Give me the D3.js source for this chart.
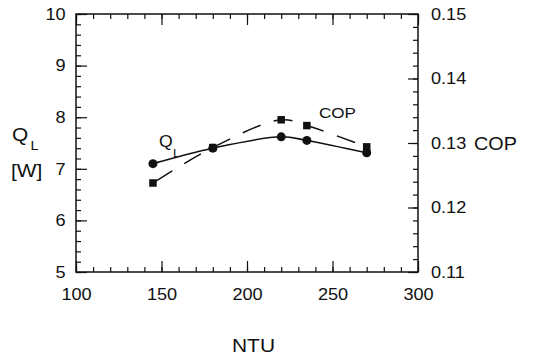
<!DOCTYPE html>
<html>
<head>
<meta charset="utf-8">
<script src="https://cdn.jsdelivr.net/npm/d3@7"></script>
<style>
  html, body { margin: 0; padding: 0; background: #fff; }
  svg { display: block; }
  text { font-family: "Liberation Sans", Arial, sans-serif; fill: #111; }
</style>
</head>
<body>
<svg id="chart" width="537" height="359"></svg>
<script>
// Measured cooling load and COP against the number of transfer units
const ntu = [145, 180, 220, 235, 270];
const qL = [7.10, 7.40, 7.62, 7.55, 7.31];
const cop = [0.1238, 0.1293, 0.1336, 0.1327, 0.1294];

const xMajor = [100, 150, 200, 250, 300];
const xMinor = d3.range(100, 301, 10);
const qMajor = [5, 6, 7, 8, 9, 10];
const qMinor = d3.range(5, 10.001, 0.2);
const copMajor = [0.11, 0.12, 0.13, 0.14, 0.15];
const copMinor = d3.range(0.11, 0.15001, 0.002);

const svg = d3.select("#chart");
const L = 76, R = 418, T = 14, B = 272;

const x = d3.scaleLinear().domain([100, 300]).range([L, R]);
const yQ = d3.scaleLinear().domain([5, 10]).range([B, T]);
const yC = d3.scaleLinear().domain([0.11, 0.15]).range([B, T]);

const ink = "#111";
const stretch = "scale(1.1,1)";

function styleAxis(g) {
  g.select(".domain").remove();
  g.selectAll(".tick line").attr("stroke", ink).attr("stroke-width", 1.2);
  g.selectAll("text").attr("font-size", 16.5).attr("fill", ink)
    .attr("font-family", "Liberation Sans, Arial, sans-serif");
}

// bottom axis: minor + labelled major ticks pointing inward
svg.append("g").attr("transform", `translate(0,${B})`)
  .call(d3.axisBottom(x).tickValues(xMinor).tickSize(-5).tickFormat(""))
  .call(styleAxis);
svg.append("g").attr("transform", `translate(0,${B})`)
  .call(d3.axisBottom(x).tickValues(xMajor).tickSize(-11).tickPadding(16).tickFormat(d3.format("d")))
  .call(styleAxis)
  .call(g => g.selectAll("text").attr("transform", stretch));

// top axis: ticks only
svg.append("g").attr("transform", `translate(0,${T})`)
  .call(d3.axisTop(x).tickValues(xMinor).tickSize(-5).tickFormat(""))
  .call(styleAxis);
svg.append("g").attr("transform", `translate(0,${T})`)
  .call(d3.axisTop(x).tickValues(xMajor).tickSize(-11).tickFormat(""))
  .call(styleAxis);

// left axis: Q_L in W
svg.append("g").attr("transform", `translate(${L},0)`)
  .call(d3.axisLeft(yQ).tickValues(qMinor).tickSize(-5).tickFormat(""))
  .call(styleAxis);
svg.append("g").attr("transform", `translate(${L},0)`)
  .call(d3.axisLeft(yQ).tickValues(qMajor).tickSize(-11).tickPadding(9.5).tickFormat(d3.format("d")))
  .call(styleAxis)
  .call(g => g.selectAll("text").attr("transform", stretch));

// right axis: COP
svg.append("g").attr("transform", `translate(${R},0)`)
  .call(d3.axisRight(yC).tickValues(copMinor).tickSize(-5).tickFormat(""))
  .call(styleAxis);
svg.append("g").attr("transform", `translate(${R},0)`)
  .call(d3.axisRight(yC).tickValues(copMajor).tickSize(-10).tickPadding(11.8).tickFormat(d3.format(".2f")))
  .call(styleAxis)
  .call(g => g.selectAll("text").attr("transform", stretch));

// plot frame
svg.append("rect").attr("x", L).attr("y", T).attr("width", R - L).attr("height", B - T)
  .attr("fill", "none").attr("stroke", ink).attr("stroke-width", 1.5);

// curves
const qLine = d3.line().curve(d3.curveCatmullRom.alpha(0.5))
  .x((d, i) => x(ntu[i])).y(d => yQ(d));
const cLine = d3.line().curve(d3.curveCatmullRom.alpha(0.5))
  .x((d, i) => x(ntu[i])).y(d => yC(d));

svg.append("path").datum(cop).attr("d", cLine)
  .attr("fill", "none").attr("stroke", ink).attr("stroke-width", 1.5)
  .attr("stroke-dasharray", "19,14").attr("stroke-dashoffset", -4);
svg.append("path").datum(qL).attr("d", qLine)
  .attr("fill", "none").attr("stroke", ink).attr("stroke-width", 1.6);

// markers
const sq = 7.5;
svg.append("g").selectAll("rect").data(cop).join("rect")
  .attr("x", (d, i) => x(ntu[i]) - sq / 2).attr("y", d => yC(d) - sq / 2)
  .attr("width", sq).attr("height", sq).attr("fill", ink);
svg.append("g").selectAll("circle").data(qL).join("circle")
  .attr("cx", (d, i) => x(ntu[i])).attr("cy", d => yQ(d)).attr("r", 4.5).attr("fill", ink);

// in-plot series labels
function stretched(g, px, py, size, str) {
  return g.append("text").attr("transform", `translate(${px},${py}) ${stretch}`)
    .attr("font-size", size).attr("fill", ink).text(str);
}
stretched(svg, 319, 118, 15.5, "COP");
stretched(svg, 159, 147, 16, "Q");
stretched(svg, 173, 156.5, 11.5, "L");

// axis titles
stretched(svg, 12, 141, 19, "Q");
stretched(svg, 30.5, 150, 13, "L");
stretched(svg, 11, 177, 19, "[W]");
stretched(svg, 474, 150, 18, "COP");
svg.append("text").attr("transform", `translate(253.5,352) ${stretch}`)
  .attr("text-anchor", "middle").attr("font-size", 19).attr("fill", ink).text("NTU");
</script>
</body>
</html>
